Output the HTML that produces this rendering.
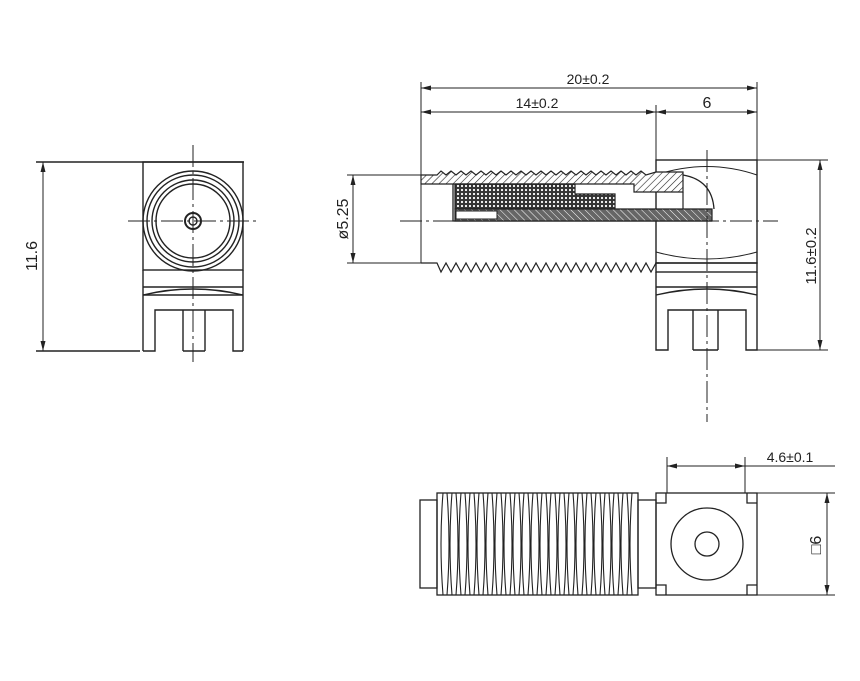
<!DOCTYPE html>
<html><head><meta charset="utf-8"><style>
html,body{margin:0;padding:0;background:#fff;}
svg{display:block;}
text{font-family:"Liberation Sans","DejaVu Sans",sans-serif;fill:#222;}
</style></head><body>
<svg width="860" height="681" viewBox="0 0 860 681" xmlns="http://www.w3.org/2000/svg">
<defs>
<pattern id="h1" width="5" height="5" patternUnits="userSpaceOnUse" patternTransform="rotate(45)">
<rect width="5" height="5" fill="#fff"/><line x1="0" y1="0" x2="0" y2="5" stroke="#222" stroke-width="1.2"/></pattern>
<pattern id="cx" width="4" height="4" patternUnits="userSpaceOnUse">
<rect width="4" height="4" fill="#333"/><circle cx="2" cy="2" r="1.1" fill="#fff"/></pattern>
<pattern id="dk" width="5" height="5" patternUnits="userSpaceOnUse" patternTransform="rotate(-45)">
<rect width="5" height="5" fill="#666"/><line x1="0" y1="0" x2="0" y2="5" stroke="#fff" stroke-width="1"/></pattern>
</defs>
<g stroke="#222" stroke-width="1.4" fill="none">
<!-- LEFT VIEW -->
<line x1="36" y1="162" x2="244" y2="162"/>
<line x1="36" y1="351" x2="140" y2="351"/>
<line x1="43" y1="162" x2="43" y2="351" stroke-width="1"/>
<rect x="143" y="162" width="100" height="108"/>
<circle cx="193" cy="221" r="50"/>
<circle cx="193" cy="221" r="46"/>
<circle cx="193" cy="221" r="41"/>
<circle cx="193" cy="221" r="37"/>
<circle cx="193" cy="221" r="8" stroke-width="2"/>
<circle cx="193" cy="221" r="4"/>
<line x1="143" y1="270" x2="143" y2="351"/>
<line x1="243" y1="270" x2="243" y2="351"/>
<line x1="143" y1="287" x2="243" y2="287"/>
<path d="M143 295 Q193 283 243 295"/>
<line x1="143" y1="295" x2="243" y2="295"/>
<path d="M143 351 H155 V310 H233 V351 H243"/>
<path d="M183 351 V310 M205 351 V310 M183 351 H205"/>
<line x1="193" y1="145" x2="193" y2="362" stroke-width="1" stroke-dasharray="22,4,3,4"/>
<line x1="128" y1="221" x2="258" y2="221" stroke-width="1" stroke-dasharray="22,4,3,4"/>
<!-- SIDE VIEW dims -->
<line x1="421" y1="82" x2="421" y2="263" stroke-width="1"/>
<line x1="757" y1="82" x2="757" y2="160" stroke-width="1"/>
<line x1="656" y1="105" x2="656" y2="160" stroke-width="1"/>
<line x1="421" y1="88" x2="757" y2="88" stroke-width="1"/>
<line x1="421" y1="112" x2="757" y2="112" stroke-width="1"/>
<line x1="757" y1="160" x2="828" y2="160" stroke-width="1"/>
<line x1="757" y1="350" x2="828" y2="350" stroke-width="1"/>
<line x1="820" y1="160" x2="820" y2="350" stroke-width="1"/>
<line x1="347" y1="175" x2="421" y2="175" stroke-width="1"/>
<line x1="347" y1="263" x2="421" y2="263" stroke-width="1"/>
<line x1="353" y1="175" x2="353" y2="263" stroke-width="1"/>
<!-- right body -->
<rect x="656" y="160" width="101" height="103"/>
<path d="M656 175 Q707 158 757 175 M656 252 Q707 266 757 252" stroke-width="1"/>
<rect x="656" y="263" width="101" height="9"/>
<line x1="656" y1="287" x2="757" y2="287"/>
<path d="M656 295 Q707 283 757 295"/>
<path d="M656 272 V350 H668 V310 H746 V350 H757 V272"/>
<path d="M693 350 V310 M718 350 V310 M693 350 H718"/>
<!-- threads -->
<path d="M421 263 H437 l4 9 l5 -9 l5 9 l5 -9 l5 9 l5 -9 l5 9 l5 -9 l5 9 l5 -9 l5 9 l5 -9 l5 9 l5 -9 l5 9 l5 -9 l5 9 l5 -9 l5 9 l5 -9 l5 9 l5 -9 l5 9 l5 -9 l5 9 l5 -9 l5 9 l5 -9 l5 9 l5 -9 l5 9 l5 -9 l5 9 l5 -9 l5 9 l5 -9 l5 9 l5 -9 l5 9 l5 -9 l5 9 l5 -9 l5 9 l5 -9 l3 0 H656" stroke-width="1.2"/>
</g>
<!-- section -->
<path d="M421 175 H437 l4 -4 l5 4 l5 -4 l5 4 l5 -4 l5 4 l5 -4 l5 4 l5 -4 l5 4 l5 -4 l5 4 l5 -4 l5 4 l5 -4 l5 4 l5 -4 l5 4 l5 -4 l5 4 l5 -4 l5 4 l5 -4 l5 4 l5 -4 l5 4 l5 -4 l5 4 l5 -4 l5 4 l5 -4 l5 4 l5 -4 l5 4 l5 -4 l5 4 l5 -4 l5 4 l5 -4 l5 4 l5 -4 l5 4 L656 172 H683 V192 H634 V184 H421 Z" fill="url(#h1)" stroke="#222" stroke-width="1.2"/>
<path d="M453 184 V221 H712" fill="none" stroke="#222" stroke-width="1.3"/>
<path d="M455 184 H575 V194 H615 V209 H455 Z" fill="url(#cx)" stroke="#222" stroke-width="1.2"/>
<path d="M455 209 H712 V221 H455 Z" fill="url(#dk)" stroke="#222" stroke-width="1.2"/>
<rect x="456" y="211" width="41" height="8" fill="#fff" stroke="#222" stroke-width="1"/>
<path d="M683 175 Q712 180 714 209" fill="none" stroke="#222" stroke-width="1.3"/>
<line x1="683" y1="192" x2="683" y2="209" stroke="#222" stroke-width="1.2"/>
<g stroke="#222" stroke-width="1" fill="none" stroke-dasharray="22,4,3,4">
<line x1="400" y1="221" x2="778" y2="221"/>
<line x1="707" y1="150" x2="707" y2="422"/>
</g>
<!-- BOTTOM VIEW -->
<g stroke="#222" stroke-width="1.3" fill="none">
<rect x="420" y="500" width="17" height="88"/>
<rect x="437" y="493" width="201" height="102"/>
<rect x="638" y="500" width="18" height="88"/>
<rect x="656" y="493" width="101" height="102"/>
<path d="M656 503 H666 V493 M747 493 V503 H757 M656 585 H666 V595 M747 595 V585 H757"/>
<circle cx="707" cy="544" r="36"/>
<circle cx="707" cy="544" r="12"/>
<line x1="667" y1="457" x2="667" y2="493" stroke-width="1"/>
<line x1="745" y1="457" x2="745" y2="493" stroke-width="1"/>
<line x1="667" y1="466" x2="835" y2="466" stroke-width="1"/>
<line x1="757" y1="493" x2="835" y2="493" stroke-width="1"/>
<line x1="757" y1="595" x2="835" y2="595" stroke-width="1"/>
<line x1="827" y1="493" x2="827" y2="595" stroke-width="1"/>
</g>
<g stroke="#222" stroke-width="1.1" fill="none">
<path d="M443 493 q-4 51 0 102 M452 493 q-4 51 0 102 M461 493 q-4 51 0 102 M470 493 q-4 51 0 102 M479 493 q-4 51 0 102 M488 493 q-4 51 0 102 M497 493 q-4 51 0 102 M506 493 q-4 51 0 102 M515 493 q-4 51 0 102 M524 493 q-4 51 0 102 M533 493 q-4 51 0 102 M542 493 q-4 51 0 102 M551 493 q-4 51 0 102 M560 493 q-4 51 0 102 M569 493 q-4 51 0 102 M578 493 q-4 51 0 102 M587 493 q-4 51 0 102 M596 493 q-4 51 0 102 M605 493 q-4 51 0 102 M614 493 q-4 51 0 102 M623 493 q-4 51 0 102 M632 493 q-4 51 0 102"/>
<path d="M447 493 q4 51 0 102 M456 493 q4 51 0 102 M465 493 q4 51 0 102 M474 493 q4 51 0 102 M483 493 q4 51 0 102 M492 493 q4 51 0 102 M501 493 q4 51 0 102 M510 493 q4 51 0 102 M519 493 q4 51 0 102 M528 493 q4 51 0 102 M537 493 q4 51 0 102 M546 493 q4 51 0 102 M555 493 q4 51 0 102 M564 493 q4 51 0 102 M573 493 q4 51 0 102 M582 493 q4 51 0 102 M591 493 q4 51 0 102 M600 493 q4 51 0 102 M609 493 q4 51 0 102 M618 493 q4 51 0 102 M627 493 q4 51 0 102"/>
</g>
<!-- arrowheads -->
<g fill="#222">
<path d="M43 162 l-2.5 10 h5 z M43 351 l-2.5 -10 h5 z"/>
<path d="M421 88 l10 -2.5 v5 z M757 88 l-10 -2.5 v5 z"/>
<path d="M421 112 l10 -2.5 v5 z M656 112 l-10 -2.5 v5 z M656 112 l10 -2.5 v5 z M757 112 l-10 -2.5 v5 z"/>
<path d="M820 160 l-2.5 10 h5 z M820 350 l-2.5 -10 h5 z"/>
<path d="M353 175 l-2.5 10 h5 z M353 263 l-2.5 -10 h5 z"/>
<path d="M667 466 l10 -2.5 v5 z M745 466 l-10 -2.5 v5 z"/>
<path d="M827 493 l-2.5 10 h5 z M827 595 l-2.5 -10 h5 z"/>
</g>
<!-- labels -->
<text x="588" y="84" font-size="14" text-anchor="middle">20±0.2</text>
<text x="537" y="108" font-size="14" text-anchor="middle">14±0.2</text>
<text x="707" y="108" font-size="16" text-anchor="middle">6</text>
<text x="790" y="462" font-size="14" text-anchor="middle">4.6±0.1</text>
<text transform="translate(37,256) rotate(-90)" font-size="16" text-anchor="middle">11.6</text>
<text transform="translate(348,219) rotate(-90)" font-size="16" text-anchor="middle">ø5.25</text>
<text transform="translate(816,256) rotate(-90)" font-size="15" text-anchor="middle">11.6±0.2</text>
<text transform="translate(821,545) rotate(-90)" font-size="16" text-anchor="middle">□6</text>
</svg>
</body></html>
